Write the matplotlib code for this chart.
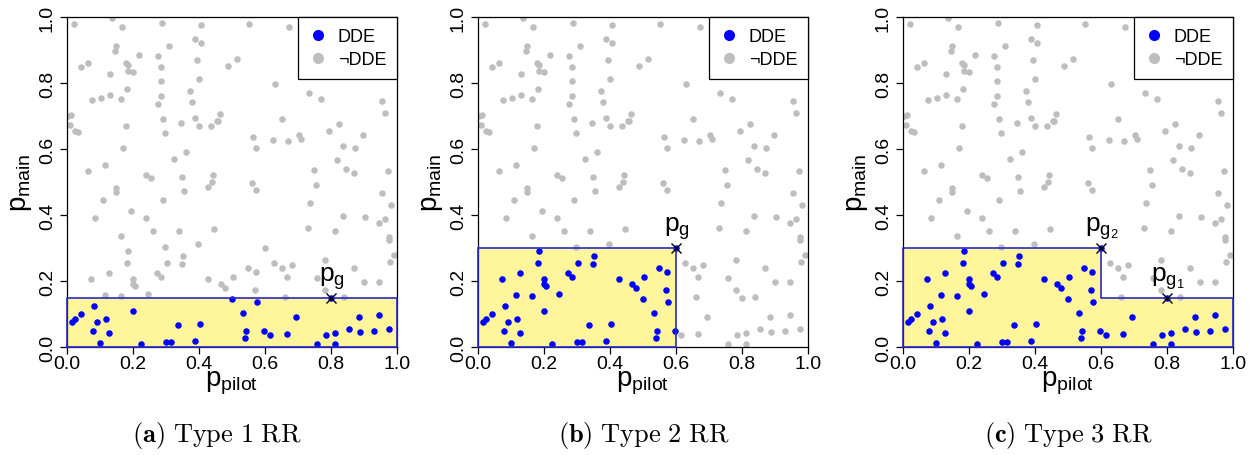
import numpy as np
import matplotlib.pyplot as plt
from matplotlib.lines import Line2D

plt.rcParams['font.family'] = ['Liberation Sans', 'DejaVu Sans']
plt.rcParams['mathtext.fontset'] = 'cm'

# simulated (p_pilot, p_main) pairs, same for all three panels
p_pilot = [0.021, 0.137, 0.167, 0.288, 0.405, 0.387, 0.406, 0.310, 0.148, 0.145,
           0.217, 0.275, 0.393, 0.514, 0.064, 0.041, 0.178, 0.184, 0.184, 0.199,
           0.130, 0.284, 0.488, 0.284, 0.399, 0.182, 0.373, 0.076, 0.103, 0.129,
           0.163, 0.286, 0.275, 0.379, 0.012, 0.003, 0.009, 0.024, 0.034, 0.180,
           0.292, 0.346, 0.387, 0.401, 0.436, 0.454, 0.458, 0.464, 0.296, 0.171,
           0.360, 0.323, 0.114, 0.065, 0.238, 0.255, 0.348, 0.442, 0.439, 0.427,
           0.148, 0.148, 0.108, 0.290, 0.356, 0.195, 0.086, 0.239, 0.260, 0.338,
           0.444, 0.163, 0.396, 0.184, 0.296, 0.351, 0.181, 0.304, 0.348, 0.127,
           0.074, 0.273, 0.284, 0.199, 0.199, 0.206, 0.426, 0.467, 0.478, 0.502,
           0.114, 0.163, 0.245,
           0.552, 0.672, 0.629, 0.733, 0.769, 0.954, 0.963, 0.651, 0.824, 0.794,
           0.563, 0.624, 0.669, 0.702, 0.709, 0.896, 0.572, 0.837, 0.873, 0.818,
           0.749, 0.845, 0.869, 0.973, 0.561, 0.572, 0.756, 0.955, 0.982, 0.735,
           0.836, 0.903, 0.944, 0.964, 0.730, 0.811, 0.977, 0.977, 0.600, 0.990,
           0.980, 0.626, 0.781, 0.683, 0.651, 0.549, 0.573, 0.869, 0.667, 0.758,
           0.899, 0.945, 0.569, 0.781, 0.662, 0.840, 0.800,
           0.501, 0.575, 0.533, 0.694, 0.886, 0.945, 0.543, 0.538, 0.597, 0.614,
           0.666, 0.786, 0.813, 0.854, 0.888, 0.929, 0.976, 0.759, 0.812,
           0.083, 0.200, 0.043, 0.023, 0.014, 0.117, 0.092, 0.078, 0.127, 0.335,
           0.402, 0.100, 0.224, 0.299, 0.315, 0.388]
p_main = [0.980, 0.996, 0.971, 0.981, 0.976, 0.934, 0.922, 0.913, 0.911, 0.897,
          0.886, 0.883, 0.871, 0.873, 0.860, 0.847, 0.860, 0.856, 0.836, 0.834,
          0.828, 0.850, 0.853, 0.807, 0.813, 0.782, 0.776, 0.749, 0.755, 0.765,
          0.752, 0.762, 0.735, 0.742, 0.704, 0.701, 0.674, 0.656, 0.652, 0.669,
          0.690, 0.680, 0.695, 0.669, 0.670, 0.686, 0.684, 0.706, 0.649, 0.602,
          0.592, 0.571, 0.553, 0.534, 0.522, 0.512, 0.514, 0.520, 0.501, 0.485,
          0.482, 0.471, 0.446, 0.445, 0.473, 0.412, 0.391, 0.391, 0.353, 0.353,
          0.359, 0.336, 0.313, 0.291, 0.302, 0.277, 0.254, 0.255, 0.252, 0.223,
          0.207, 0.224, 0.213, 0.207, 0.192, 0.185, 0.207, 0.192, 0.180, 0.212,
          0.157, 0.154, 0.162,
          0.978, 0.970, 0.798, 0.770, 0.752, 0.746, 0.710, 0.691, 0.677, 0.656,
          0.637, 0.628, 0.625, 0.642, 0.629, 0.642, 0.602, 0.609, 0.604, 0.568,
          0.537, 0.540, 0.526, 0.532, 0.497, 0.477, 0.491, 0.467, 0.430, 0.437,
          0.398, 0.393, 0.375, 0.388, 0.361, 0.353, 0.332, 0.325, 0.300, 0.279,
          0.257, 0.256, 0.263, 0.248, 0.238, 0.238, 0.228, 0.240, 0.213, 0.210,
          0.196, 0.198, 0.174, 0.172, 0.152, 0.153, 0.150,
          0.145, 0.135, 0.103, 0.091, 0.091, 0.098, 0.047, 0.026, 0.050, 0.037,
          0.040, 0.037, 0.043, 0.054, 0.046, 0.047, 0.054, 0.009, 0.010,
          0.125, 0.109, 0.099, 0.086, 0.077, 0.086, 0.077, 0.047, 0.042, 0.067,
          0.069, 0.013, 0.009, 0.016, 0.014, 0.018]

# rejection regions: boxes (x upper, y upper) and the marked thresholds
regions = [[(1.0, 0.15)], [(0.6, 0.3)], [(0.6, 0.3), (1.0, 0.15)]]
thresholds = [[(0.8, 0.15, 'g')], [(0.6, 0.3, 'g')],
              [(0.6, 0.3, 'g_2'), (0.8, 0.15, 'g_1')]]
captions = [r'$\mathbf{(a)}\ \mathrm{Type\ 1\ RR}$',
            r'$\mathbf{(b)}\ \mathrm{Type\ 2\ RR}$',
            r'$\mathbf{(c)}\ \mathrm{Type\ 3\ RR}$']

W, H = 1258, 456
fig = plt.figure(figsize=(W / 100, H / 100), dpi=100)
lefts = [67, 478, 903]
cap_x = [217, 644, 1068]

x = np.array(p_pilot)
y = np.array(p_main)

for i in range(3):
    ax = fig.add_axes([lefts[i] / W, 108 / H, 330 / W, 330 / H])
    ax.set_xlim(0, 1)
    ax.set_ylim(0, 1)

    # staircase outline of the region
    boxes = regions[i]
    poly = [(0, 0), (0, boxes[0][1])]
    for k, (bx, by) in enumerate(boxes):
        poly.append((bx, by))
        if k + 1 < len(boxes):
            poly.append((bx, boxes[k + 1][1]))
    poly.append((boxes[-1][0], 0))
    px, py = zip(*poly)
    ax.fill(px, py, color='#FFF59A', zorder=1, lw=0)

    inside = np.zeros(len(x), dtype=bool)
    for bx, by in boxes:
        inside |= (x <= bx + 1e-9) & (y <= by + 1e-9)
    ax.scatter(x[~inside], y[~inside], s=22, color='#BEBEBE', lw=0, zorder=2)
    ax.scatter(x[inside], y[inside], s=22, color='#0000FF', lw=0, zorder=2)

    ax.plot(list(px) + [0], list(py) + [0], color='#2828CC', lw=1.2,
            zorder=3, clip_on=False)

    for tx, ty, sub in thresholds[i]:
        ax.plot(tx, ty, marker='x', color='black', ms=7, mew=1.0, zorder=4)
        ax.annotate(r'$\mathregular{p_{%s}}$' % sub, (tx, ty), xytext=(1, 5),
                    textcoords='offset points', ha='center', va='bottom',
                    fontsize=19, zorder=4)

    for s in ax.spines.values():
        s.set_linewidth(0.9)
    ax.set_xticks(np.arange(0, 1.01, 0.2))
    ax.set_yticks(np.arange(0, 1.01, 0.2))
    ax.set_xticklabels(['0.0', '0.2', '0.4', '0.6', '0.8', '1.0'])
    ax.set_yticklabels(['0.0', '0.2', '0.4', '0.6', '0.8', '1.0'],
                       rotation=90, va='center')
    ax.tick_params(length=5, width=0.9, labelsize=14, pad=1.0)
    ax.tick_params(axis='y', pad=3)

    ax.set_xlabel(r'$\mathregular{p_{pilot}}$', fontsize=20)
    ax.xaxis.set_label_coords(0.5, -0.065)
    ax.set_ylabel(r'$\mathregular{p_{main}}$', fontsize=20)
    ax.yaxis.set_label_coords(-0.1, 0.5)

    handles = [Line2D([], [], marker='o', ls='none', color='#0000FF', ms=7),
               Line2D([], [], marker='o', ls='none', color='#BEBEBE', ms=7)]
    leg = ax.legend(handles, ['DDE', '\u00acDDE'], loc='upper right',
                    borderaxespad=0, fancybox=False, edgecolor='black',
                    framealpha=1, fontsize=13, handlelength=1.0,
                    handletextpad=0.6, labelspacing=0.35, borderpad=0.6)
    leg.get_frame().set_linewidth(0.9)
    leg.set_zorder(5)

    fig.text(cap_x[i] / W, 1 - 436 / H, captions[i], ha='center',
             va='center', fontsize=19)

plt.savefig('out.png', dpi=100)
